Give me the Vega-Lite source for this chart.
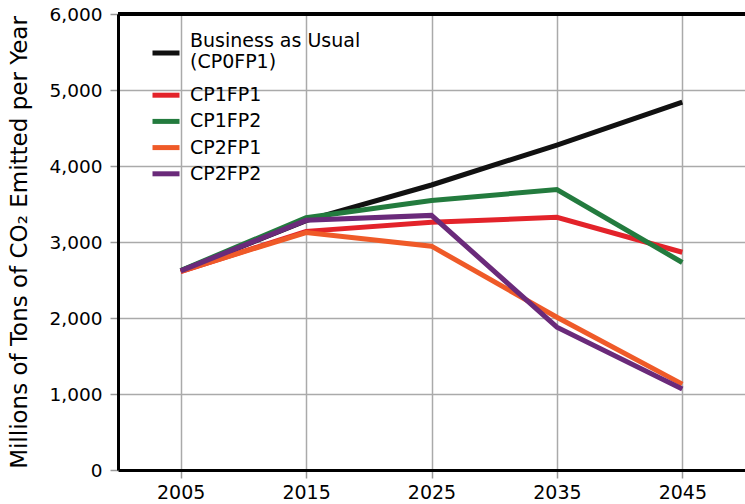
{
  "$schema": "https://vega.github.io/schema/vega-lite/v6.json",
  "width": 627,
  "height": 456,
  "autosize": {"type": "none"},
  "padding": {"left": 118, "top": 14, "right": 0, "bottom": 34},
  "background": "white",
  "config": {
    "view": {"stroke": null},
    "font": "DejaVu Sans",
    "axis": {
      "domainColor": "black",
      "domainWidth": 3,
      "gridColor": "#aaaaaa",
      "gridWidth": 1.5,
      "tickColor": "#999999",
      "tickWidth": 1.5,
      "tickSize": 8,
      "labelFontSize": 18.5,
      "labelFont": "DejaVu Sans",
      "titleFont": "DejaVu Sans",
      "labelColor": "black",
      "titleColor": "black",
      "titleFontWeight": "normal"
    },
    "legend": {"labelFont": "DejaVu Sans"}
  },
  "data": {
    "values": [
      {"year": 2005, "scenario": "Business as Usual (CP0FP1)", "value": 2620},
      {"year": 2015, "scenario": "Business as Usual (CP0FP1)", "value": 3280},
      {"year": 2025, "scenario": "Business as Usual (CP0FP1)", "value": 3750},
      {"year": 2035, "scenario": "Business as Usual (CP0FP1)", "value": 4276},
      {"year": 2045, "scenario": "Business as Usual (CP0FP1)", "value": 4840},
      {"year": 2005, "scenario": "CP1FP1", "value": 2610},
      {"year": 2015, "scenario": "CP1FP1", "value": 3140},
      {"year": 2025, "scenario": "CP1FP1", "value": 3260},
      {"year": 2035, "scenario": "CP1FP1", "value": 3325},
      {"year": 2045, "scenario": "CP1FP1", "value": 2865},
      {"year": 2005, "scenario": "CP1FP2", "value": 2625},
      {"year": 2015, "scenario": "CP1FP2", "value": 3320},
      {"year": 2025, "scenario": "CP1FP2", "value": 3545},
      {"year": 2035, "scenario": "CP1FP2", "value": 3690},
      {"year": 2045, "scenario": "CP1FP2", "value": 2730},
      {"year": 2005, "scenario": "CP2FP1", "value": 2615},
      {"year": 2015, "scenario": "CP2FP1", "value": 3125},
      {"year": 2025, "scenario": "CP2FP1", "value": 2945},
      {"year": 2035, "scenario": "CP2FP1", "value": 2010},
      {"year": 2045, "scenario": "CP2FP1", "value": 1130},
      {"year": 2005, "scenario": "CP2FP2", "value": 2620},
      {"year": 2015, "scenario": "CP2FP2", "value": 3285},
      {"year": 2025, "scenario": "CP2FP2", "value": 3350},
      {"year": 2035, "scenario": "CP2FP2", "value": 1880},
      {"year": 2045, "scenario": "CP2FP2", "value": 1066}
    ]
  },
  "layer": [
    {
      "mark": {"type": "line", "strokeWidth": 5, "strokeJoin": "miter", "strokeCap": "butt"},
      "encoding": {
        "x": {
          "field": "year",
          "type": "quantitative",
          "scale": {"domain": [2000, 2050], "nice": false},
          "axis": {
            "values": [2005, 2015, 2025, 2035, 2045],
            "format": "d",
            "title": null,
            "labelFontSize": 19,
            "labelPadding": 5
          }
        },
        "y": {
          "field": "value",
          "type": "quantitative",
          "scale": {"domain": [0, 6000], "nice": false},
          "axis": {
            "values": [0, 1000, 2000, 3000, 4000, 5000, 6000],
            "format": ",d",
            "title": "Millions of Tons of CO₂ Emitted per Year",
            "titleFontSize": 23,
            "titlePadding": 18,
            "labelPadding": 8
          }
        },
        "color": {
          "field": "scenario",
          "type": "nominal",
          "sort": ["Business as Usual (CP0FP1)", "CP1FP1", "CP1FP2", "CP2FP1", "CP2FP2"],
          "scale": {
            "domain": ["Business as Usual (CP0FP1)", "CP1FP1", "CP1FP2", "CP2FP1", "CP2FP2"],
            "range": ["#111111", "#e3232a", "#237b3e", "#ef5a28", "#6a2a7a"]
          },
          "legend": {
            "orient": "none",
            "legendX": 38.5,
            "legendY": 29.5,
            "title": null,
            "symbolType": "M-2.7,0H2.7",
            "symbolSize": 100,
            "symbolStrokeWidth": 5,
            "labelFontSize": 19,
            "labelColor": "black",
            "labelLimit": 300,
            "labelOffset": 14.5,
            "rowPadding": 5.2,
            "labelExpr": "datum.label == 'Business as Usual (CP0FP1)' ? ['Business as Usual', '(CP0FP1)'] : datum.label",
            "encode": {
              "labels": {
                "update": {
                  "dy": {"signal": "datum.label == 'Business as Usual (CP0FP1)' ? -12 : 0"}
                }
              },
              "symbols": {
                "update": {
                  "shape": {"signal": "datum.label == 'Business as Usual (CP0FP1)' ? 'M-2.7,0H2.7M0,3.24L0,3.24' : 'M-2.7,0H2.7'"}
                }
              }
            }
          }
        }
      }
    },
    {
      "mark": {"type": "rule", "stroke": "black", "strokeWidth": 3},
      "encoding": {"y": {"datum": 6000}}
    }
  ]
}
